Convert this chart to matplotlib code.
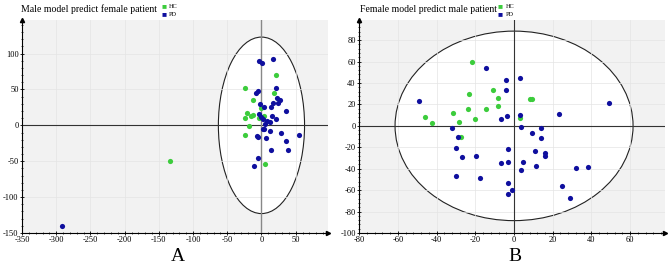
import matplotlib
matplotlib.use("Agg")
import matplotlib.pyplot as plt
from matplotlib.patches import Ellipse
from matplotlib.ticker import AutoMinorLocator, MultipleLocator

plt.rcParams["font.family"] = ["Liberation Serif", "DejaVu Serif"]
plt.rcParams["axes.unicode_minus"] = False

GREEN = "#3ccc3c"
BLUE = "#0f0f9e"

# panel A: male model predicting female patients
a_hc_x = [20.8, -24.3, 18.9, -12.6, -0.5, -21.4, -15.6, -13.1, -24.7, 4.4, -3.4, -18.4, -23.7, 5.8, -134]
a_hc_y = [70.7, 52, 45.6, 35.8, 23.7, 16.7, 13, 14.4, 9.8, 13.5, 9.8, -1.4, -14, -53.4, -49.2]
a_pd_x = [-3.4, 1.5, 17.4, -8.3, -5.4, 20.8, 22.8, 27.6, 24.7, 16.4, 35.3, -1.9, 3.9, 13.5,
          -3.4, -0.5, 15, 1.9, 7.7, 12.6, 21.4, 4.8, 1.9, 4.4, 13.1, 28.6, 54.2, -6.8, -4.4,
          7.3, 36.3, 14.5, 38.8, -4.4, -10.2, -291.7]
a_pd_y = [89.7, 87.4, 92, 45.6, 47.4, 51.6, 37.7, 35.8, 31.6, 31.6, 20, 30.2, 25.1, 25.1,
          16.3, 12.1, 12.6, 8.8, 6, 5.1, 8.4, 2.3, -5.6, -5.6, -8.4, -11.2, -14, -14.4, -15.8,
          -18.1, -21.4, -34.4, -34.9, -46, -56.7, -141]

# panel B: female model predicting male patients
b_hc_x = [-21.7, -23.4, -11, -8.4, 8.4, 9.5, -45.8, -42.3, -31.3, -24, -14.7, -8.4, -28.3,
          -20.3, 2.9, -27.4]
b_hc_y = [59.3, 29.4, 33.4, 25.9, 25, 25, 8.6, 2.5, 12.3, 15.5, 15.5, 18.8, 3.7, 6.5, 7.7, -10.5]
b_pd_x = [-14.5, -4.4, 2.9, -48.9, -4.4, -6.8, -3.5, 2.9, 3.6, -32.1, 13.8, 9.1, 14, -29,
          23.3, 48.9, -29.9, -26.7, -19.9, -3.3, 10.8, 16, 16, -7, -3.3, 4.7, 3.5, 11.5,
          31.8, 38.1, -29.8, -17.5, -3.3, -1, -3.3, 24.6, 28.9]
b_pd_y = [53.8, 42.6, 44.8, 22.9, 33.4, 6.8, 9.5, 10.5, -0.6, -2.2, -1.8, -7.1, -11.4, -10.2,
          11.1, 21.6, -20.7, -28.7, -28.4, -21.6, -23.5, -25.3, -28.1, -34.9, -33.4, -34, -41.1,
          -37.1, -39.5, -38.3, -47, -48.8, -53.8, -60.2, -63.3, -56.5, -67]


def draw_panel(ax, hc_x, hc_y, pd_x, pd_y, xlim, ylim, radii, xstep, ystep, vline_color):
    ax.set_facecolor("#f2f2f2")
    ax.add_patch(Ellipse((0, 0), 2 * radii[0], 2 * radii[1], facecolor="white",
                         edgecolor="#222222", lw=0.8, zorder=0.3))
    ax.set_axisbelow(True)
    ax.grid(True, color="#e4e4e4", lw=0.5)
    ax.axhline(0, color="#333333", lw=0.8, zorder=1)
    ax.axvline(0, color=vline_color, lw=1.0 if vline_color != "#333333" else 0.8, zorder=1)
    ax.scatter(hc_x, hc_y, s=14, color=GREEN, zorder=3, linewidths=0)
    ax.scatter(pd_x, pd_y, s=14, color=BLUE, zorder=3, linewidths=0)
    ax.set_xlim(*xlim)
    ax.set_ylim(*ylim)
    ax.xaxis.set_major_locator(MultipleLocator(xstep))
    ax.yaxis.set_major_locator(MultipleLocator(ystep))
    ax.xaxis.set_minor_locator(AutoMinorLocator(5))
    ax.yaxis.set_minor_locator(AutoMinorLocator(5))
    ax.tick_params(which="major", direction="inout", length=3, width=0.6, labelsize=6, pad=1)
    ax.tick_params(which="minor", direction="inout", length=1.5, width=0.5)
    for side in ["top", "right"]:
        ax.spines[side].set_visible(False)
    for side in ["left", "bottom"]:
        ax.spines[side].set_linewidth(0.8)
    ax.plot(1, 0, ">k", ms=3, transform=ax.transAxes, clip_on=False)
    ax.plot(0, 1, "^k", ms=3, transform=ax.transAxes, clip_on=False)


fig = plt.figure(figsize=(6.69, 2.76), dpi=100)
ax_a = fig.add_axes([0.033, 0.156, 0.457, 0.772])
ax_b = fig.add_axes([0.537, 0.156, 0.457, 0.772])

draw_panel(ax_a, a_hc_x, a_hc_y, a_pd_x, a_pd_y, (-350, 97), (-150, 147), (63, 123), 50, 50, "#888888")
draw_panel(ax_b, b_hc_x, b_hc_y, b_pd_x, b_pd_y, (-80, 78), (-100, 99), (61.5, 88.5), 20, 20, "#333333")

for ax, title, tx, lx, letter, lxx in [
    (ax_a, "Male model predict female patient", 21, 161, "A", 178),
    (ax_b, "Female model predict male patient", 360, 498, "B", 515),
]:
    fig.text(tx / 669, 1 - 9 / 276, title, fontsize=7, ha="left", va="center")
    fig.text(lx / 669, 1 - 6 / 276, "\u25a0", color=GREEN, fontsize=6, ha="left", va="center")
    fig.text(lx / 669, 1 - 14 / 276, "\u25a0", color=BLUE, fontsize=6, ha="left", va="center")
    fig.text((lx + 8) / 669, 1 - 6 / 276, "HC", fontsize=4.5, ha="left", va="center")
    fig.text((lx + 8) / 669, 1 - 14 / 276, "PD", fontsize=4.5, ha="left", va="center")
    fig.text(lxx / 669, 1 - 261 / 276, letter, fontsize=14, ha="center", va="baseline")

fig.savefig("out.png", dpi=100)
